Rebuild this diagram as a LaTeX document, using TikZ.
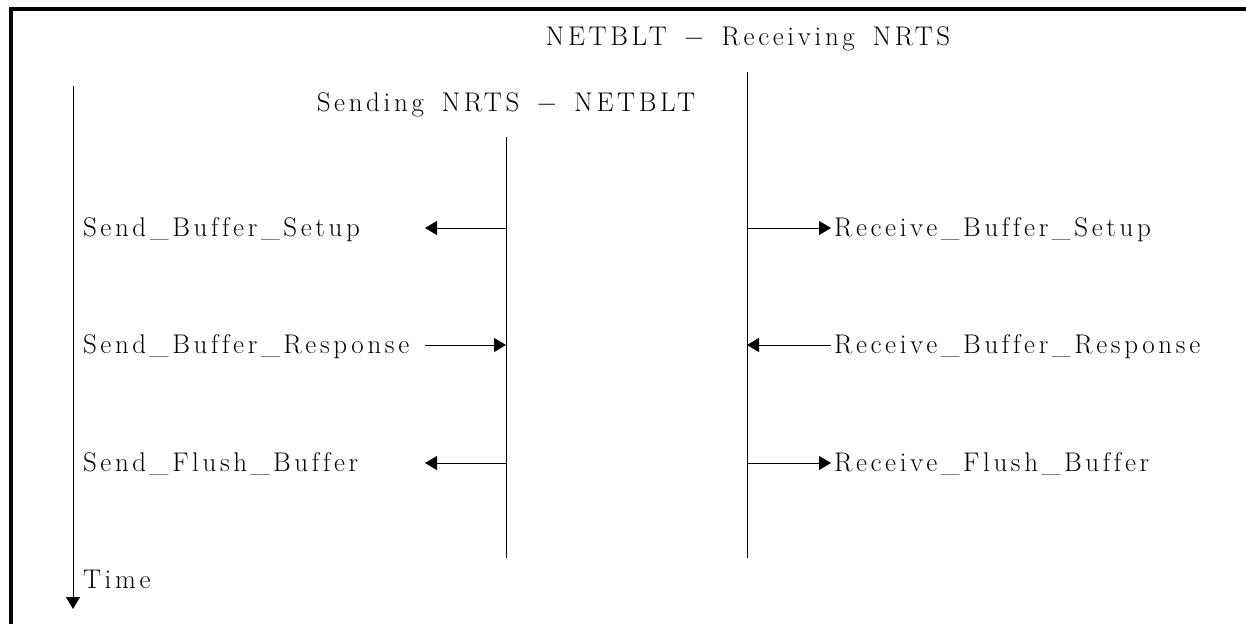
\documentclass[tikz,border=0pt]{standalone}
\usepackage{fontspec}
\setmainfont{Latin Modern Roman}[LetterSpace=13.5,WordSpace=1.5,Ligatures={NoCommon}]
\usetikzlibrary{arrows.meta}
\begin{document}
\begin{tikzpicture}[x=1pt,y=-1pt,
  lbl/.style={inner sep=0pt,outer sep=0pt,anchor=base west,font=\fontsize{27}{31}\selectfont},
  ttl/.style={inner sep=0pt,outer sep=0pt,anchor=base,font=\fontsize{27}{31}\selectfont},
  life/.style={line width=1pt},
  arr/.style={line width=1pt,-{Triangle[length=12pt,width=14pt]}},
  frame/.style={line width=4pt,line join=miter}]
\useasboundingbox (0,0) rectangle (1246,624);
% frame (top and left edges)
\coordinate (fbl) at (11,624);
\coordinate (ftl) at (11,8.5);
\coordinate (ftr) at (1246,8.5);
\draw[frame] (fbl) -- (ftl) -- (ftr);
% titles
\node[ttl] (tr) at (748,45) {NETBLT − Receiving NRTS};
\node[ttl] (ts) at (506,111) {Sending NRTS − NETBLT};
% lifelines
\coordinate (stop) at (506,137);
\coordinate (sbot) at (506,558);
\coordinate (rtop) at (747,72);
\coordinate (rbot) at (747,558);
\draw[life] (stop) -- (sbot);
\draw[life] (rtop) -- (rbot);
% time axis
\coordinate (ttop) at (73,86);
\coordinate (tbot) at (73,609);
\draw[arr] (ttop) -- (tbot);
\node[lbl] (time) at (83,588) {Time};
% row 1
\node[lbl] (sbs) at (83,236) {Send\_Buffer\_Setup};
\node[lbl] (rbs) at (834,236) {Receive\_Buffer\_Setup};
\coordinate (s1) at (506,228);
\coordinate (s1e) at (425,228);
\coordinate (r1) at (747,228);
\coordinate (r1e) at (831,228);
\draw[arr] (s1) -- (s1e);
\draw[arr] (r1) -- (r1e);
% row 2
\node[lbl] (sbr) at (83,353) {Send\_Buffer\_Response};
\node[lbl] (rbr) at (834,353) {Receive\_Buffer\_Response};
\coordinate (s2) at (506,345);
\coordinate (s2e) at (425,345);
\coordinate (r2) at (747,345);
\coordinate (r2e) at (831,345);
\draw[arr] (s2e) -- (s2);
\draw[arr] (r2e) -- (r2);
% row 3
\node[lbl] (sfb) at (83,471) {Send\_Flush\_Buffer};
\node[lbl] (rfb) at (834,471) {Receive\_Flush\_Buffer};
\coordinate (s3) at (506,463);
\coordinate (s3e) at (425,463);
\coordinate (r3) at (747,463);
\coordinate (r3e) at (831,463);
\draw[arr] (s3) -- (s3e);
\draw[arr] (r3) -- (r3e);
\end{tikzpicture}
\end{document}
